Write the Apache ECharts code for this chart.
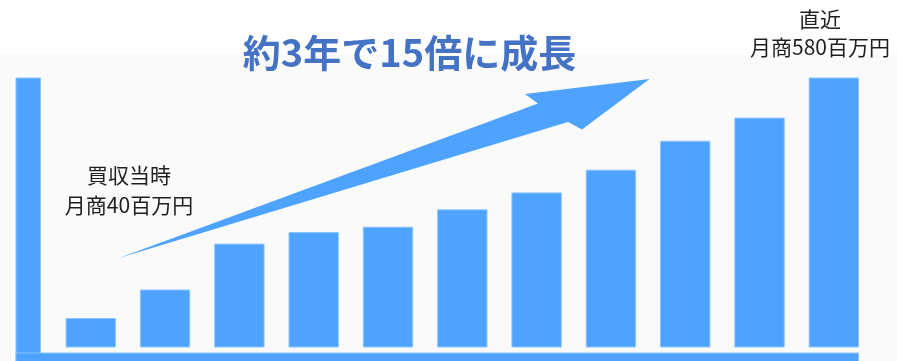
<!DOCTYPE html>
<html>
<head>
<meta charset="utf-8">
<script src="https://cdn.jsdelivr.net/npm/echarts@6/dist/echarts.min.js"></script>
<style>
  html, body { margin: 0; padding: 0; background: #ffffff; }
  #chart { width: 897px; height: 361px; }
</style>
</head>
<body>
<div id="chart"></div>
<script>
// Monthly sales (百万円) after the acquisition, oldest to newest
const periods = ['1', '2', '3', '4', '5', '6', '7', '8', '9', '10', '11'];
const sales = [40, 104, 207, 233, 245, 284, 322, 373, 438, 490, 580];

// Text
const headline = '約3年で15倍に成長';
const startCaption = '買収当時';
const endCaption = '直近';
const unitPrefix = '月商';
const unitSuffix = '百万円';

// Value axis range (the baseline sits a little below zero so short bars stay visible)
const Y_MIN = -24;
const Y_MAX = 580;

const BAR = '#4DA3FF';
const BAR_EDGE = '#8cc4ff';
const FONT = '"Noto Sans CJK JP", "Noto Sans", sans-serif';

const chart = echarts.init(document.getElementById('chart'), null, { renderer: 'canvas' });

chart.setOption({
  backgroundColor: '#ffffff',
  animation: false,
  grid: { left: 53.6, right: 26, top: 78, bottom: 14 },
  xAxis: {
    type: 'category',
    data: periods,
    boundaryGap: true,
    axisLine: { show: false },
    axisTick: { show: false },
    axisLabel: { show: false },
    splitLine: { show: false }
  },
  yAxis: {
    type: 'value',
    min: Y_MIN,
    max: Y_MAX,
    axisLine: { show: false },
    axisTick: { show: false },
    axisLabel: { show: false },
    splitLine: { show: false }
  },
  graphic: [
    // light panel behind the chart body
    { type: 'rect', z: -10, silent: true,
      shape: { x: 0, y: 55, width: 897, height: 306 },
      style: { fill: '#fafafa' } },
    // heavy L-shaped frame
    { type: 'rect', z: 1, silent: true,
      shape: { x: 16, y: 78, width: 24.5, height: 283 },
      style: { fill: BAR, stroke: BAR_EDGE, lineWidth: 1 } },
    { type: 'rect', z: 1, silent: true,
      shape: { x: 16, y: 353, width: 842.5, height: 10 },
      style: { fill: BAR, stroke: BAR_EDGE, lineWidth: 1 } },
    // growth arrow
    { type: 'polygon', z: 5, silent: true,
      shape: { points: [[119, 258], [538, 103.5], [525, 94],
                        [649.5, 79], [582, 129.5], [568, 122]] },
      style: { fill: BAR } },
    // headline
    { type: 'text', z: 6, silent: true, x: 409.5, y: 53,
      style: { text: headline, fill: '#4472C4', font: 'bold 38px ' + FONT,
               textAlign: 'center', textVerticalAlign: 'middle' } },
    // captions for the first and latest month
    { type: 'text', z: 6, silent: true, x: 129, y: 190,
      style: { text: startCaption + '\n' + unitPrefix + sales[0] + unitSuffix,
               fill: '#1f1f1f', font: '21px ' + FONT, lineHeight: 29.5,
               textAlign: 'center', textVerticalAlign: 'middle' } },
    { type: 'text', z: 6, silent: true, x: 820, y: 33,
      style: { text: endCaption + '\n' + unitPrefix + sales[sales.length - 1] + unitSuffix,
               fill: '#1f1f1f', font: '21px ' + FONT, lineHeight: 28,
               textAlign: 'center', textVerticalAlign: 'middle' } }
  ],
  series: [{
    type: 'custom',
    data: sales.map((v, i) => [i, v]),
    encode: { x: 0, y: 1 },
    renderItem: function (params, api) {
      const idx = api.value(0);
      const top = api.coord([idx, api.value(1)]);
      const base = api.coord([idx, Y_MIN]);
      const w = api.size([1, 0])[0] * 0.664;
      return {
        type: 'rect',
        shape: { x: top[0] - w / 2, y: top[1], width: w, height: base[1] - top[1] },
        style: { fill: BAR, stroke: BAR_EDGE, lineWidth: 1 }
      };
    }
  }]
});
</script>
</body>
</html>
